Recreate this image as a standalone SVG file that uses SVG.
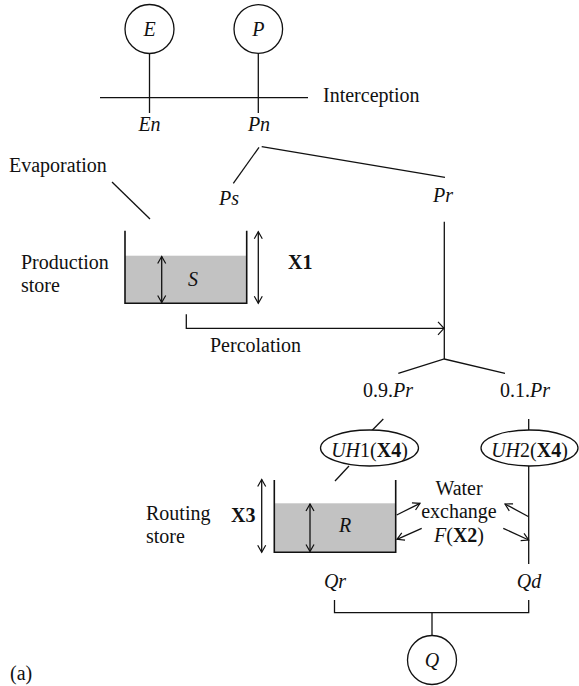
<svg xmlns="http://www.w3.org/2000/svg" width="579" height="686" viewBox="0 0 579 686" font-family="'Liberation Serif', 'DejaVu Serif', serif">
<defs>
<style>
text{font-family:'Liberation Serif','DejaVu Serif','Times New Roman',serif;font-size:20px;fill:#111}
.i{font-style:italic}
.b{font-weight:bold}
.ln{stroke:#111;stroke-width:1.3;fill:none}
.wall{stroke:#111;stroke-width:1.6;fill:none}
.water{fill:#c2c2c2;stroke:none}
.nd{fill:#fff;stroke:#111;stroke-width:1.3}
</style>
<marker id="ah" viewBox="-9 -6 11 12" refX="0" refY="0" markerWidth="11" markerHeight="12" markerUnits="userSpaceOnUse" orient="auto-start-reverse">
<path d="M-7,-4 L0,0 L-7,4" fill="none" stroke="#111" stroke-width="1.2"/>
</marker>
<marker id="ahw" viewBox="-9 -8 11 16" refX="0" refY="0" markerWidth="11" markerHeight="16" markerUnits="userSpaceOnUse" orient="auto">
<path d="M-6,-6.5 L0,0 L-6,6.5" fill="none" stroke="#111" stroke-width="1.2"/>
</marker>
</defs>
<rect width="579" height="686" fill="#fff"/>

<g id="connectors">
<line class="ln" x1="149.5" y1="54" x2="149.5" y2="113"/>
<line class="ln" x1="258.3" y1="53.5" x2="258.3" y2="113"/>
<line class="ln" x1="100" y1="97.7" x2="308" y2="97.7"/>
<line class="ln" x1="112" y1="182" x2="150" y2="219"/>
<line class="ln" x1="259" y1="147.3" x2="233.3" y2="183.3"/>
<line class="ln" x1="261.7" y1="146.7" x2="445" y2="177.3"/>
<line class="ln" x1="444.3" y1="221.7" x2="444.3" y2="359"/>
<polyline class="ln" points="186.3,314.3 186.3,328.3 444,328.3" marker-end="url(#ahw)"/>
<polyline class="ln" points="398.3,373.3 444.3,359 505,373.3"/>
<line class="ln" x1="383.3" y1="419" x2="371.7" y2="430.7"/>
<line class="ln" x1="528.7" y1="419" x2="528.7" y2="430"/>
<line class="ln" x1="349" y1="466" x2="335" y2="481"/>
<line class="ln" x1="528.7" y1="466" x2="528.7" y2="564"/>
<line class="ln" x1="396.7" y1="515" x2="420" y2="503.3" marker-end="url(#ah)"/>
<line class="ln" x1="421.7" y1="528.3" x2="397" y2="539.3" marker-end="url(#ah)"/>
<line class="ln" x1="528.7" y1="516.7" x2="505" y2="504" marker-end="url(#ah)"/>
<line class="ln" x1="503.3" y1="528.3" x2="528.7" y2="540" marker-end="url(#ah)"/>
<polyline class="ln" points="334.5,600 334.5,612.7 528.7,612.7 528.7,600"/>
<line class="ln" x1="432" y1="612.7" x2="432" y2="635"/>
</g>

<g id="node-E">
<circle class="nd" cx="149.5" cy="29" r="24.5"/>
<text class="i" x="149.5" y="36" text-anchor="middle">E</text>
</g>
<g id="node-P">
<circle class="nd" cx="258.3" cy="29" r="24.3"/>
<text class="i" x="258.3" y="36" text-anchor="middle">P</text>
</g>
<g id="label-interception">
<text x="323" y="102">Interception</text>
</g>
<g id="label-En"><text class="i" x="149.5" y="131" text-anchor="middle">En</text></g>
<g id="label-Pn"><text class="i" x="259" y="131" text-anchor="middle">Pn</text></g>
<g id="label-evaporation"><text x="9" y="171.5">Evaporation</text></g>
<g id="label-Ps"><text class="i" x="229" y="205" text-anchor="middle">Ps</text></g>
<g id="label-Pr"><text class="i" x="443" y="202" text-anchor="middle">Pr</text></g>

<g id="production-store">
<rect class="water" x="125" y="255.7" width="121.7" height="47.6"/>
<polyline class="wall" points="125,230.7 125,303.3 246.7,303.3 246.7,230.7"/>
<line class="ln" x1="161.7" y1="256.5" x2="161.7" y2="302.5" marker-start="url(#ah)" marker-end="url(#ah)"/>
<text class="i" x="193" y="286" text-anchor="middle">S</text>
<line class="ln" x1="258.3" y1="231.7" x2="258.3" y2="303.3" marker-start="url(#ah)" marker-end="url(#ah)"/>
<text class="b" x="288" y="268.5">X1</text>
<text x="21" y="269">Production</text>
<text x="21" y="292">store</text>
</g>

<g id="label-percolation"><text x="210" y="352">Percolation</text></g>
<g id="label-09Pr"><text x="363" y="397">0.9.<tspan class="i">Pr</tspan></text></g>
<g id="label-01Pr"><text x="500" y="397">0.1.<tspan class="i">Pr</tspan></text></g>

<g id="node-UH1">
<ellipse class="nd" cx="369.5" cy="448" rx="49" ry="18"/>
<text x="369.5" y="457" text-anchor="middle"><tspan class="i">UH</tspan>1(<tspan class="b">X4</tspan>)</text>
</g>
<g id="node-UH2">
<ellipse class="nd" cx="529.5" cy="448" rx="48.5" ry="18"/>
<text x="529.5" y="457" text-anchor="middle"><tspan class="i">UH</tspan>2(<tspan class="b">X4</tspan>)</text>
</g>

<g id="routing-store">
<rect class="water" x="274.3" y="503.3" width="121.4" height="49"/>
<polyline class="wall" points="274.3,480 274.3,552.3 395.7,552.3 395.7,480"/>
<line class="ln" x1="310" y1="504" x2="310" y2="551.5" marker-start="url(#ah)" marker-end="url(#ah)"/>
<text class="i" x="345" y="532" text-anchor="middle">R</text>
<line class="ln" x1="261.7" y1="479.5" x2="261.7" y2="552.3" marker-start="url(#ah)" marker-end="url(#ah)"/>
<text class="b" x="243.3" y="522" text-anchor="middle">X3</text>
<text x="146" y="520">Routing</text>
<text x="146" y="543">store</text>
</g>

<g id="label-water-exchange">
<text x="459" y="495" text-anchor="middle">Water</text>
<text x="459" y="518.3" text-anchor="middle">exchange</text>
<text x="459" y="541.7" text-anchor="middle"><tspan class="i">F</tspan>(<tspan class="b">X2</tspan>)</text>
</g>

<g id="label-Qr"><text class="i" x="335" y="588" text-anchor="middle">Qr</text></g>
<g id="label-Qd"><text class="i" x="529" y="588" text-anchor="middle">Qd</text></g>
<g id="node-Q">
<circle class="nd" cx="432" cy="660" r="24.5"/>
<text class="i" x="432" y="667" text-anchor="middle">Q</text>
</g>
<g id="label-a"><text x="10" y="680">(a)</text></g>
</svg>
